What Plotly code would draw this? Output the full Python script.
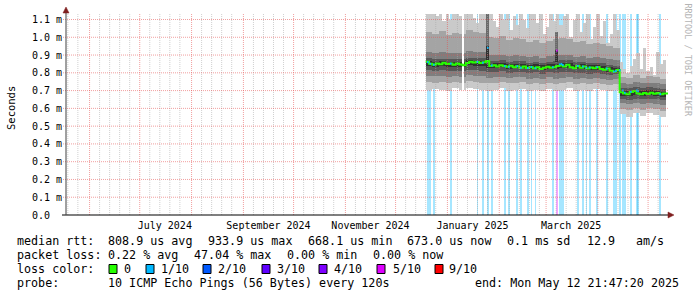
import numpy as np
import pandas as pd
import plotly.graph_objects as go

# ---------------- data (values in milliseconds) ----------------
START = "2024-05-17 21:47:20"
END = "2025-05-12 21:47:20"

# 2-day consolidated steps starting 2024-12-19
median_ms = [0.862, 0.851, 0.846, 0.853, 0.848, 0.856, 0.849, 0.852, 0.845, 0.853,
             0.847, 0.842, 0.855, 0.862, 0.858, 0.861, 0.855, 0.859, 0.866, 0.838,
             0.842, 0.836, 0.843, 0.838, 0.834, 0.840, 0.832, 0.837, 0.829, 0.835,
             0.827, 0.833, 0.826, 0.831, 0.822, 0.829, 0.834, 0.828, 0.832, 0.838,
             0.842, 0.836, 0.845, 0.832, 0.826, 0.838, 0.829, 0.835, 0.824, 0.830,
             0.826, 0.833, 0.822, 0.818, 0.824, 0.812, 0.806, 0.816, 0.690, 0.684,
             0.679, 0.692, 0.698, 0.684, 0.679, 0.686, 0.681, 0.688, 0.682, 0.686,
             0.679, 0.684]
max_ms = [1.15, 1.15, 1.15, 1.12, 1.15, 1.09, 1.15, 1.10, 1.15, 1.15,
          1.12, 1.15, 1.15, 1.15, 1.11, 1.08, 1.15, 1.15, 1.15, 1.15,
          1.09, 1.06, 1.15, 1.10, 1.15, 1.04, 1.12, 1.07, 1.15, 1.10,
          1.05, 1.13, 1.15, 1.08, 1.15, 1.02, 1.06, 1.15, 1.09, 1.15,
          1.07, 1.12, 1.15, 1.00, 1.10, 1.15, 1.03, 1.08, 1.15, 0.99,
          1.06, 1.15, 1.01, 1.09, 0.97, 1.02, 1.15, 1.04, 0.86, 0.82,
          0.80, 0.84, 0.88, 0.91, 0.82, 0.94, 0.81, 0.83, 0.79, 0.92,
          0.85, 0.87]

# 4-day consolidated smoke percentiles starting 2024-12-19
p1_ms = [0.705, 0.710, 0.705, 0.700, 0.712, 0.705, 0.715, 0.708, 0.705, 0.700, 0.706, 0.712,
         0.700, 0.705, 0.710, 0.700, 0.706, 0.698, 0.710, 0.700, 0.705, 0.712, 0.700, 0.706,
         0.698, 0.708, 0.704, 0.700, 0.706, 0.568, 0.552, 0.575, 0.556, 0.572, 0.560, 0.550]
p2_ms = [0.748, 0.745, 0.750, 0.742, 0.748, 0.744, 0.752, 0.747, 0.745, 0.740, 0.744, 0.748,
         0.740, 0.744, 0.746, 0.738, 0.742, 0.736, 0.745, 0.738, 0.742, 0.746, 0.738, 0.742,
         0.735, 0.740, 0.738, 0.734, 0.738, 0.598, 0.590, 0.602, 0.592, 0.600, 0.594, 0.588]
p3_ms = [0.782, 0.780, 0.784, 0.778, 0.781, 0.779, 0.786, 0.782, 0.780, 0.772, 0.775, 0.778,
         0.770, 0.774, 0.776, 0.768, 0.772, 0.766, 0.774, 0.768, 0.772, 0.776, 0.768, 0.771,
         0.765, 0.769, 0.766, 0.762, 0.765, 0.628, 0.622, 0.630, 0.624, 0.630, 0.625, 0.620]
p4_ms = [0.815, 0.812, 0.816, 0.810, 0.813, 0.811, 0.818, 0.815, 0.813, 0.804, 0.806, 0.809,
         0.801, 0.805, 0.806, 0.798, 0.802, 0.796, 0.804, 0.799, 0.803, 0.806, 0.798, 0.801,
         0.795, 0.798, 0.795, 0.790, 0.793, 0.652, 0.648, 0.655, 0.650, 0.654, 0.650, 0.646]
p5_ms = [0.838, 0.834, 0.837, 0.833, 0.835, 0.834, 0.842, 0.840, 0.838, 0.826, 0.828, 0.830,
         0.822, 0.826, 0.827, 0.819, 0.822, 0.817, 0.824, 0.822, 0.826, 0.828, 0.820, 0.822,
         0.816, 0.818, 0.814, 0.806, 0.800, 0.672, 0.668, 0.676, 0.670, 0.674, 0.670, 0.666]
p6_ms = [0.866, 0.862, 0.865, 0.860, 0.862, 0.860, 0.870, 0.868, 0.866, 0.852, 0.854, 0.856,
         0.848, 0.852, 0.852, 0.845, 0.848, 0.842, 0.848, 0.850, 0.854, 0.856, 0.846, 0.848,
         0.842, 0.844, 0.840, 0.832, 0.826, 0.700, 0.696, 0.705, 0.698, 0.702, 0.698, 0.694]
p7_ms = [0.882, 0.878, 0.880, 0.876, 0.878, 0.876, 0.886, 0.884, 0.882, 0.866, 0.868, 0.870,
         0.862, 0.866, 0.866, 0.858, 0.862, 0.856, 0.862, 0.866, 0.870, 0.870, 0.860, 0.862,
         0.856, 0.858, 0.854, 0.846, 0.840, 0.716, 0.712, 0.722, 0.714, 0.718, 0.714, 0.710]
p8_ms = [0.918, 0.914, 0.916, 0.912, 0.914, 0.912, 0.922, 0.920, 0.918, 0.898, 0.900, 0.902,
         0.894, 0.898, 0.896, 0.888, 0.892, 0.886, 0.892, 0.898, 0.902, 0.900, 0.890, 0.892,
         0.886, 0.888, 0.884, 0.876, 0.870, 0.742, 0.738, 0.748, 0.740, 0.744, 0.740, 0.736]
p9_ms = [1.030, 1.020, 1.035, 1.015, 1.025, 1.020, 1.040, 1.030, 1.025, 1.000, 0.995, 1.005,
         0.985, 0.995, 0.990, 0.975, 0.985, 0.970, 0.980, 0.990, 0.995, 0.990, 0.975, 0.980,
         0.965, 0.970, 0.960, 0.950, 0.940, 0.776, 0.770, 0.785, 0.772, 0.780, 0.774, 0.768]

# packet-loss events (tenths lost) and the median at those steps
loss_dates = ["2024-12-19 18:00", "2024-12-21 06:00", "2024-12-23 09:00", "2025-01-02 12:00",
              "2025-01-18 10:00", "2025-01-21 17:00", "2025-01-24 15:00", "2025-01-27 00:00",
              "2025-02-03 19:00", "2025-02-06 05:00", "2025-02-11 07:00", "2025-02-13 10:00",
              "2025-02-17 14:00", "2025-02-19 17:00", "2025-02-22 02:00", "2025-03-04 12:00",
              "2025-03-06 22:00", "2025-03-08 17:00", "2025-03-09 17:00", "2025-03-10 12:00",
              "2025-03-19 12:00", "2025-03-22 12:00", "2025-03-24 14:00", "2025-03-26 14:00",
              "2025-03-31 02:00", "2025-04-05 19:00", "2025-04-10 00:00", "2025-04-11 06:00",
              "2025-04-13 14:00", "2025-04-15 10:00", "2025-04-16 14:00", "2025-04-20 05:00",
              "2025-04-23 20:00", "2025-04-24 12:00", "2025-05-07 19:00"]
loss_level = [1, 1, 1, 1, 1, 1, 1, 1, 1, 1, 1, 1, 1, 1, 1, 1, 5, 1, 1, 1,
              1, 1, 1, 1, 1, 1, 1, 1, 1, 1, 1, 1, 1, 1, 1]
loss_med = [0.860, 0.851, 0.846, 0.852, 0.861, 0.857, 0.940, 0.842, 0.838, 0.834,
            0.837, 0.829, 0.827, 0.833, 0.826, 0.832, 0.925, 0.848, 0.850, 0.844,
            0.838, 0.836, 0.828, 0.830, 0.833, 0.824, 0.806, 0.810, 0.814, 0.700,
            0.688, 0.694, 0.700, 0.698, 0.680]

gap_dates = ["2025-01-10 06:00"]
gap_lo = [0.69]
gap_hi = [1.14]

spike_dates = ["2025-01-24 15:00", "2025-03-06 22:00"]
spike_lo = [0.87, 0.86]
spike_hi = [1.14, 1.03]
spike_core_hi = [0.95, 0.93]

y_ticks = [0.0, 0.1, 0.2, 0.3, 0.4, 0.5, 0.6, 0.7, 0.8, 0.9, 1.0, 1.1]
y_ticktext = ["0.0\u00a0\u00a0", "0.1 m", "0.2 m", "0.3 m", "0.4 m", "0.5 m", "0.6 m",
              "0.7 m", "0.8 m", "0.9 m", "1.0 m", "1.1 m"]
x_label_dates = ["2024-07-16", "2024-09-16", "2024-11-16", "2025-01-16", "2025-03-16"]
x_label_text = ["July 2024", "September 2024", "November 2024", "January 2025", "March 2025"]

rtt_items = ["808.9 us avg", "933.9 us max", "668.1 us min", "673.0 us now", "0.1 ms sd", "12.9", "am/s"]
loss_items = ["0.22 % avg", "47.04 % max", "0.00 % min", "0.00 % now"]
loss_names = ["0", "1/10", "2/10", "3/10", "4/10", "5/10", "9/10"]
loss_colors = ["#26ff00", "#00b8ff", "#0059ff", "#5e00ff", "#7e00ff", "#dd00ff", "#ff0000"]
loss_keys = [0, 1, 2, 3, 4, 5, 9]
probe_text = "10 ICMP Echo Pings (56 Bytes) every 120s"
end_text = "end: Mon May 12 21:47:20 2025"

# ---------------- layout geometry ----------------
W, H = 697, 297
L, R, T, B = 66, 29, 14, 82
PW, PH = W - L - R, H - T - B
Y_TOP = 1.131
DAY = 86400000
FONT = "DejaVu Sans Mono"


def px(xp):
    return (xp - L) / PW


def py(yp):
    return (T + PH - yp) / PH


def rgba(hexc, a):
    h = hexc.lstrip("#")
    return "rgba(%d,%d,%d,%.2f)" % (int(h[0:2], 16), int(h[2:4], 16), int(h[4:6], 16), a)


fine_x = pd.date_range("2024-12-19", periods=len(median_ms), freq="2D")
coarse_x = pd.date_range("2024-12-19", periods=len(p1_ms), freq="4D")


def band(x, lo, hi, color, wdays):
    lo = np.asarray(lo, float)
    hi = np.asarray(hi, float)
    return go.Bar(x=x, base=lo, y=hi - lo, width=wdays * DAY, offset=0,
                  marker=dict(color=color, line=dict(width=0)),
                  hoverinfo="skip", showlegend=False)


fig = go.Figure()

# loss background bars (full height)
lvl_color = dict(zip(loss_keys, loss_colors))
fig.add_trace(go.Bar(x=pd.to_datetime(loss_dates), base=[0] * len(loss_dates),
                     y=[1.3] * len(loss_dates), width=DAY, offset=0,
                     marker=dict(color=[rgba(lvl_color[l], 0.35) for l in loss_level],
                                 line=dict(width=0)),
                     hoverinfo="skip", showlegend=False))

# smoke
fig.add_trace(band(fine_x, median_ms, max_ms, "#cacaca", 2))
fig.add_trace(band(coarse_x, p1_ms, p6_ms, "#cacaca", 4))
fig.add_trace(band(coarse_x, p2_ms, p9_ms, "#a4a4a4", 4))
fig.add_trace(band(coarse_x, p3_ms, p8_ms, "#7e7e7e", 4))
fig.add_trace(band(coarse_x, p4_ms, p7_ms, "#585858", 4))
fig.add_trace(band(coarse_x, p5_ms, p6_ms, "#323232", 4))
fig.add_trace(band(pd.to_datetime(gap_dates), gap_lo, gap_hi, "#ffffff", 0.6))
fig.add_trace(band(pd.to_datetime(spike_dates), spike_lo, spike_hi, "#6a6a6a", 1))
fig.add_trace(band(pd.to_datetime(spike_dates), spike_lo, spike_core_hi, "#303030", 1))

# median line (green = no loss)
mx = list(fine_x) + [pd.Timestamp(END)]
my = list(median_ms) + [median_ms[-1]]
fig.add_trace(go.Scatter(x=mx, y=my, mode="lines", line=dict(color="#26ff00", width=2, shape="hv"),
                         hoverinfo="skip", showlegend=False))

# median segments coloured by loss
for lv in sorted(set(loss_level)):
    xs, ys = [], []
    for d, l, m in zip(loss_dates, loss_level, loss_med):
        if l != lv:
            continue
        t = pd.Timestamp(d)
        xs += [t, t + pd.Timedelta(days=1), None]
        ys += [m, m, None]
    fig.add_trace(go.Scatter(x=xs, y=ys, mode="lines", line=dict(color=lvl_color[lv], width=2),
                             hoverinfo="skip", showlegend=False))

shapes = []
RED = "rgba(230,80,80,0.55)"
GRAY = "rgba(170,170,170,0.55)"
DASH = "1px,1px"
# minor vertical grid (days 7/13/19/25)
t0, t1 = pd.Timestamp(START), pd.Timestamp(END)
for m in pd.date_range("2024-05-01", "2025-05-01", freq="MS"):
    for dd in (7, 13, 19, 25):
        t = m + pd.Timedelta(days=dd - 1)
        if t0 < t < t1:
            shapes.append(dict(type="line", xref="x", yref="paper", x0=t, x1=t, y0=0, y1=1,
                               line=dict(color=GRAY, width=1, dash=DASH), layer="above"))
# major vertical grid (month starts)
for m in pd.date_range("2024-06-01", "2025-05-01", freq="MS"):
    shapes.append(dict(type="line", xref="x", yref="paper", x0=m, x1=m, y0=0, y1=1,
                       line=dict(color=RED, width=1, dash=DASH), layer="above"))
# horizontal grid
for v in y_ticks[1:]:
    shapes.append(dict(type="line", xref="paper", yref="y", x0=px(63), x1=1, y0=v, y1=v,
                       line=dict(color=RED, width=1, dash=DASH), layer="above"))
# axes
shapes.append(dict(type="line", xref="paper", yref="paper", x0=px(62), x1=1.0, y0=0, y1=0,
                   line=dict(color="#000000", width=1), layer="above"))
shapes.append(dict(type="line", xref="paper", yref="paper", x0=0, x1=0, y0=0, y1=py(10),
                   line=dict(color="#404040", width=1), layer="above"))
# arrows
shapes.append(dict(type="path", xref="paper", yref="paper", xsizemode="pixel", ysizemode="pixel",
                   xanchor=0, yanchor=1, path="M -3,1 L 3,1 L 0,7 Z",
                   fillcolor="#7f1f1f", line=dict(color="#7f1f1f", width=0.5), layer="above"))
shapes.append(dict(type="path", xref="paper", yref="paper", xsizemode="pixel", ysizemode="pixel",
                   xanchor=1, yanchor=0, path="M 0,-3 L 0,3 L 6,0 Z",
                   fillcolor="#7f1f1f", line=dict(color="#7f1f1f", width=0.5), layer="above"))

annotations = []


def ann(xp, yp, text, anchor="left", size=11.7, color="#000000", angle=0):
    annotations.append(dict(x=px(xp), y=py(yp), xref="paper", yref="paper", text=text,
                            xanchor=anchor, yanchor="middle", showarrow=False, borderpad=0,
                            textangle=angle, font=dict(family=FONT, size=size, color=color)))


ROW = [241.3, 255.3, 269.3, 283.0]
ann(16, ROW[0], "median rtt:")
for xp, t in zip([107, 207, 307, 406, 506, 586, 635], rtt_items):
    ann(xp, ROW[0], t)
ann(16, ROW[1], "packet loss:")
for xp, t in zip([107, 193, 286, 372], loss_items):
    ann(xp, ROW[1], t)
ann(16, ROW[2], "loss color:")
box_x = [109, 146, 203, 262, 319, 377, 435]
txt_x = [123, 160, 217, 276, 333, 392, 448]
for bx, tx, name, col in zip(box_x, txt_x, loss_names, loss_colors):
    shapes.append(dict(type="rect", xref="paper", yref="paper", x0=px(bx), x1=px(bx + 8),
                       y0=py(273.5), y1=py(264.5), fillcolor=col,
                       line=dict(color="#000000", width=1), layer="above"))
    ann(tx, ROW[2], name)
ann(16, ROW[3], "probe:")
ann(107, ROW[3], probe_text)
ann(680, ROW[3], end_text, anchor="right")

ann(11, 108, "Seconds", anchor="center", size=10.5, angle=-90)
ann(687.5, 60, "RRDTOOL / TOBI OETIKER", anchor="center", size=8.5, color="#b4b4b4", angle=90)

fig.update_layout(
    width=W, height=H, margin=dict(l=L, r=R, t=T, b=B),
    paper_bgcolor="white", plot_bgcolor="white",
    barmode="overlay", bargap=0, showlegend=False,
    font=dict(family=FONT, color="#000000"),
    shapes=shapes, annotations=annotations,
    xaxis=dict(type="date", range=[START, END], showgrid=False, zeroline=False, showline=False,
               tickvals=x_label_dates, ticktext=x_label_text, ticks="", ticklabelstandoff=3,
               tickfont=dict(family=FONT, size=10, color="#000000"), fixedrange=True),
    yaxis=dict(range=[0, Y_TOP], showgrid=False, zeroline=False, showline=False,
               tickvals=y_ticks, ticktext=y_ticktext, ticks="", ticklabelstandoff=3,
               tickfont=dict(family=FONT, size=10, color="#000000"), fixedrange=True),
)

fig.write_html("out.html")
